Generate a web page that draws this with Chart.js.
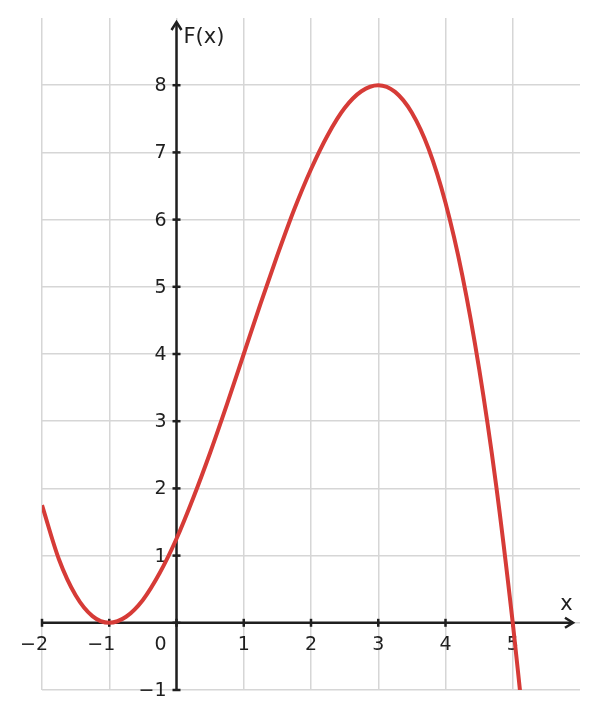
<!DOCTYPE html>
<html>
<head>
<meta charset="utf-8">
<script src="https://cdn.jsdelivr.net/npm/chart.js@4.4.0/dist/chart.umd.min.js"></script>
<style>
  body { margin: 0; background: #fff; }
  #wrap { width: 598px; height: 719px; }
</style>
</head>
<body>
<div id="wrap"><canvas id="graph-section" width="598" height="719"></canvas></div>
<script>
// values
const xValues = [-2, -1.75, -1.5, -1.25, -1, -0.75, -0.5, -0.25, 0, 0.25, 0.5, 0.75, 1, 1.25, 1.5, 1.75, 2, 2.25, 2.5, 2.75, 3, 3.25, 3.5, 3.75, 4, 4.25, 4.5, 4.75, 5, 5.11];
const fValues = [1.75, 0.95, 0.41, 0.1, 0, 0.09, 0.34, 0.74, 1.25, 1.86, 2.53, 3.25, 4, 4.75, 5.47, 6.15, 6.75, 7.26, 7.66, 7.91, 8, 7.9, 7.59, 7.05, 6.25, 5.17, 3.78, 2.07, 0, -1.03];
const xTicks = [-2, -1, 0, 1, 2, 3, 4, 5];
const yTicks = [-1, 0, 1, 2, 3, 4, 5, 6, 7, 8];
const xTitle = "x";
const yTitle = "F(x)";

const ctx = document.getElementById("graph-section").getContext("2d");
const ink = "#1f1f1f";
const font = "DejaVu Sans";

function fmt(v) {
  return v < 0 ? "\u2212" + Math.abs(v) : String(v);
}

const axesPlugin = {
  id: "axes",
  beforeDatasetsDraw(chart) {
    const c = chart.ctx;
    const xs = chart.scales.x;
    const ys = chart.scales.y;
    const x0 = xs.getPixelForValue(0);
    const y0 = ys.getPixelForValue(0);
    const area = chart.chartArea;
    c.save();
    c.strokeStyle = ink;
    c.lineWidth = 2.5;
    c.lineCap = "butt";
    // x axis
    const xEnd = area.right - 7;
    c.beginPath();
    c.moveTo(area.left, y0);
    c.lineTo(xEnd, y0);
    c.stroke();
    c.beginPath();
    c.moveTo(xEnd - 8, y0 - 5);
    c.lineTo(xEnd, y0);
    c.lineTo(xEnd - 8, y0 + 5);
    c.stroke();
    // y axis
    const yEnd = area.top + 4;
    c.beginPath();
    c.moveTo(x0, area.bottom);
    c.lineTo(x0, yEnd);
    c.stroke();
    c.beginPath();
    c.moveTo(x0 - 5, yEnd + 8);
    c.lineTo(x0, yEnd);
    c.lineTo(x0 + 5, yEnd + 8);
    c.stroke();
    // tick marks
    xTicks.forEach((v) => {
      const px = xs.getPixelForValue(v);
      c.beginPath();
      c.moveTo(px, y0 - 4);
      c.lineTo(px, y0 + 4);
      c.stroke();
    });
    yTicks.forEach((v) => {
      const py = ys.getPixelForValue(v);
      c.beginPath();
      c.moveTo(x0 - 4, py);
      c.lineTo(x0 + 4, py);
      c.stroke();
    });
    // tick labels
    c.fillStyle = ink;
    c.font = "19px '" + font + "'";
    c.textBaseline = "alphabetic";
    xTicks.forEach((v) => {
      if (v === 0) return;
      const px = xs.getPixelForValue(v);
      if (v < 0) {
        const w = c.measureText(String(Math.abs(v))).width;
        c.textAlign = "right";
        c.fillText(fmt(v), px + w / 2, y0 + 27);
      } else {
        c.textAlign = "center";
        c.fillText(fmt(v), px, y0 + 27);
      }
    });
    c.textAlign = "right";
    yTicks.forEach((v) => {
      if (v === 0) return;
      const py = ys.getPixelForValue(v);
      c.fillText(fmt(v), x0 - 10, py + 6);
    });
    c.fillText("0", x0 - 10, y0 + 27);
    // axis titles
    c.font = "21px '" + font + "'";
    c.textAlign = "left";
    c.fillText(yTitle, x0 + 7, area.top + 25);
    c.textAlign = "center";
    c.fillText(xTitle, xs.getPixelForValue(5.8), y0 - 13);
    c.restore();
  },
};

function gridColor(maxVal) {
  return (context) => (context.tick && context.tick.value === maxVal ? "rgba(0,0,0,0)" : "#d6d6d6");
}

const data = {
  datasets: [
    {
      label: yTitle,
      data: xValues.map((x, i) => ({ x: x, y: fValues[i] })),
      borderColor: "#d63b37",
      borderWidth: 4,
      pointRadius: 0,
      fill: false,
      cubicInterpolationMode: "monotone",
      clip: 0,
    },
  ],
};

const config = {
  type: "line",
  data: data,
  plugins: [axesPlugin],
  options: {
    responsive: false,
    animation: false,
    devicePixelRatio: 1,
    layout: { padding: { left: 42, right: 18, top: 18, bottom: 29 } },
    plugins: { legend: { display: false }, tooltip: { enabled: false } },
    scales: {
      x: {
        type: "linear",
        min: -2,
        max: 6,
        ticks: { stepSize: 1, display: false },
        grid: { color: gridColor(6), lineWidth: 1.5, drawTicks: false },
        border: { display: false },
      },
      y: {
        type: "linear",
        min: -1,
        max: 9,
        ticks: { stepSize: 1, display: false },
        grid: { color: gridColor(9), lineWidth: 1.5, drawTicks: false },
        border: { display: false },
      },
    },
  },
};

const myChart = new Chart(ctx, config);
</script>
</body>
</html>
